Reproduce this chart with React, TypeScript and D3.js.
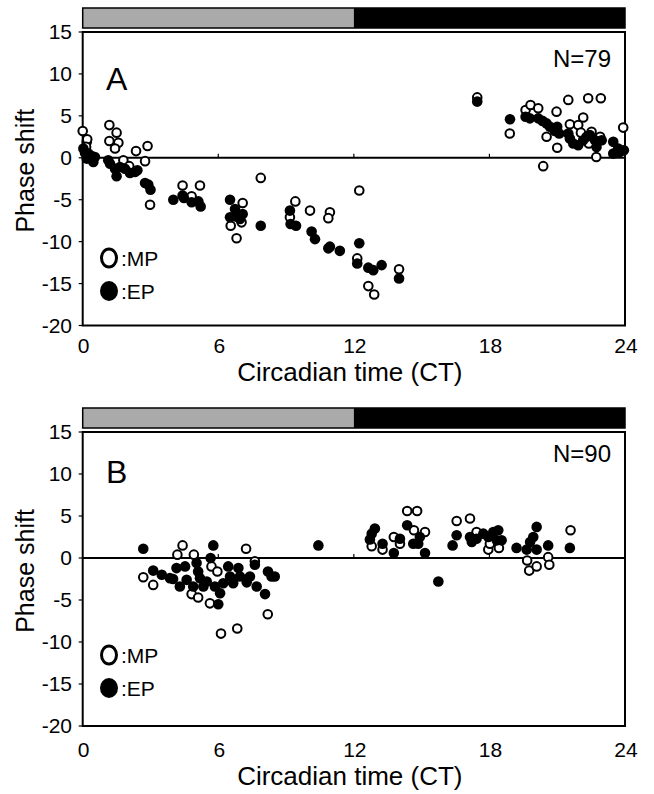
import React from "react";
import * as d3 from "d3";

// ---------- DATA ----------
const xTicks = [0, 6, 12, 18, 24];
const yTicks = [-20, -15, -10, -5, 0, 5, 10, 15];
const panelLabels = ["A", "B"];
const panelN = ["N=79", "N=90"];
const legendLabels = [":MP", ":EP"];
const xTitle = "Circadian time (CT)";
const yTitle = "Phase shift";

// Panel A: [CT, phase shift]
const aMP: [number, number][] = [
  [0.0, 3.2], [0.18, 1.9], [0.2, 2.2], [0.15, 1.3], [1.18, 3.9], [1.5, 3.0], [1.18, 2.0], [1.58, 1.8],
  [1.43, 1.1], [2.36, 0.8], [2.87, 1.4], [2.76, -0.4], [1.8, -0.3], [2.06, -1.0], [2.98, -5.6],
  [4.42, -3.3], [5.19, -3.3], [4.82, -4.6], [7.08, -5.4], [6.55, -8.1], [6.81, -9.6], [7.03, -7.7],
  [7.88, -2.4], [9.41, -5.2], [9.17, -7.1], [10.06, -6.3], [10.94, -6.5], [10.87, -7.2],
  [12.24, -3.9], [12.15, -12.0], [12.64, -15.3], [12.9, -16.3], [14.0, -13.3], [17.46, 7.2],
  [18.9, 2.9], [19.6, 5.7], [19.82, 6.3], [20.16, 5.9], [20.97, 5.5], [21.49, 6.9], [22.37, 7.1],
  [22.93, 7.1], [20.53, 2.5], [21.0, 1.2], [21.56, 4.0], [21.93, 3.9], [22.15, 4.8], [22.05, 3.0],
  [22.52, 3.1], [22.4, 1.7], [22.73, 0.1], [23.92, 3.6], [22.9, 2.5], [20.38, -1.0],
];
const aEP: [number, number][] = [
  [0.03, 1.1], [0.1, 0.6], [0.25, 0.5], [0.4, 0.2], [0.54, 0.1], [0.47, -0.5], [0.18, -0.1],
  [1.13, -0.3], [1.21, -0.7], [1.43, -1.3], [1.5, -2.2], [1.65, -1.1], [1.87, -1.3], [2.09, -1.8],
  [2.31, -1.7], [2.42, -1.5], [2.76, -3.0], [2.9, -3.2], [3.0, -3.8], [4.01, -5.0], [4.42, -4.5],
  [4.48, -4.8], [4.82, -5.3], [5.12, -5.2], [5.22, -5.8], [6.52, -5.0], [6.74, -6.1], [6.52, -7.1],
  [6.78, -7.0], [7.08, -6.7], [6.96, -7.3], [7.88, -8.1], [9.17, -6.3], [9.2, -7.9], [9.44, -8.1],
  [10.13, -8.8], [10.28, -9.7], [10.87, -10.8], [10.94, -10.6], [11.38, -11.1], [12.24, -10.2],
  [12.15, -12.6], [12.64, -13.1], [12.86, -13.4], [13.23, -12.8], [14.0, -14.4], [17.46, 6.7],
  [18.91, 4.6], [19.6, 4.9], [19.79, 4.7], [20.16, 4.7], [20.35, 4.4], [20.53, 4.1], [20.68, 3.7],
  [20.9, 3.2], [21.0, 3.7], [21.09, 2.9], [21.49, 2.9], [21.56, 2.3], [21.71, 1.7], [21.93, 1.5],
  [22.15, 2.1], [22.3, 2.5], [22.45, 2.7], [22.67, 2.1], [22.74, 1.3], [22.97, 2.1], [23.48, 1.9],
  [23.48, 0.5], [23.7, 1.1], [23.95, 0.9], [23.77, 0.7],
];

// Panel B: [CT, phase shift]
const bMP: [number, number][] = [
  [2.68, -2.3], [3.12, -3.2], [4.19, 0.4], [4.42, 1.5], [4.92, 0.4], [4.82, -4.3], [5.11, -4.7],
  [5.63, -5.4], [5.7, -1.0], [5.96, -1.6], [6.12, -9.0], [6.84, -8.4], [7.23, 1.1], [8.19, -6.7],
  [7.62, -0.4], [12.79, 1.4], [13.27, 1.0], [13.77, 2.5], [14.04, 1.7], [14.36, 5.6], [14.8, 5.6],
  [14.66, 3.3], [15.15, 3.1], [16.55, 4.4], [17.14, 4.7], [17.43, 3.1], [17.95, 1.0], [18.42, 1.2],
  [18.02, 1.7], [19.67, -0.3], [19.76, -1.5], [20.09, -1.0], [20.6, 0.1], [20.65, -0.8], [21.59, 3.3],
];
const bEP: [number, number][] = [
  [2.68, 1.1], [3.12, -1.5], [3.5, -2.0], [4.0, -2.5], [4.3, -3.4], [4.15, -1.2], [4.53, -1.0],
  [4.6, -2.6], [4.89, -3.4], [5.04, -0.6], [5.11, -1.6], [5.19, -2.4], [5.34, -3.4], [5.66, 0.0],
  [5.78, 1.5], [5.49, -2.8], [5.85, -3.4], [6.08, -4.2], [6.0, -5.5], [6.22, -3.0], [6.44, -1.0],
  [6.52, -2.2], [6.66, -3.0], [6.89, -1.2], [6.96, -2.2], [7.26, -2.9], [7.4, -2.2], [7.62, -0.8],
  [7.7, -3.4], [8.07, -4.3], [8.2, -1.6], [8.36, -2.2], [8.5, -2.2], [3.86, -2.4], [10.43, 1.5],
  [12.79, 2.9], [12.93, 3.5], [12.71, 2.2], [13.27, 1.7], [13.77, 0.6], [14.04, 2.3], [14.36, 3.9],
  [14.63, 1.7], [14.85, 1.7], [15.15, 0.6], [14.92, 2.5], [15.74, -2.8], [16.37, 1.5], [16.55, 2.7],
  [17.14, 2.5], [17.22, 1.9], [17.43, 2.3], [17.73, 2.9], [17.95, 2.5], [18.17, 3.1], [18.39, 3.3],
  [18.54, 2.1], [18.32, 2.1], [19.2, 1.2], [19.65, 1.0], [19.8, 1.9], [19.94, 2.5], [20.09, 3.7],
  [20.09, 1.0], [20.6, 1.5], [21.56, 1.2],
];

const FONT = "'Liberation Sans', Arial, Helvetica, sans-serif";

type PanelProps = {
  top: number;
  bottom: number;
  label: string;
  n: string;
  mp: [number, number][];
  ep: [number, number][];
  labelDy: number;
  nDy: number;
  legendDy: number;
  tickDy: number;
  titleDy: number;
};

const LEFT = 82.7;
const RIGHT = 625;

function Panel(p: PanelProps) {
  const x = d3.scaleLinear().domain([0, 24]).range([LEFT, RIGHT]);
  const y = d3.scaleLinear().domain([-20, 15]).range([p.bottom, p.top]);
  const barTop = p.top - 24;
  const barH = 20;
  return (
    <g>
      {/* light/dark bar */}
      <rect x={x(0)} y={barTop} width={x(12) - x(0)} height={barH} fill="#aaaaaa" />
      <rect x={x(12)} y={barTop} width={x(24) - x(12)} height={barH} fill="#000" />
      <rect x={x(0)} y={barTop} width={x(24) - x(0)} height={barH} fill="none" stroke="#000" strokeWidth={1.5} />

      {/* plot box */}
      <rect x={x(0)} y={p.top} width={x(24) - x(0)} height={p.bottom - p.top} fill="none" stroke="#000" strokeWidth={2} />

      {/* zero line with ticks */}
      <line x1={x(0)} x2={x(24)} y1={y(0)} y2={y(0)} stroke="#000" strokeWidth={2} />
      {[6, 12, 18].map((t) => (
        <line key={t} x1={x(t)} x2={x(t)} y1={y(0)} y2={y(0) - 4} stroke="#000" strokeWidth={1.2} />
      ))}

      {/* y ticks */}
      {yTicks.map((t) => (
        <g key={t}>
          <line x1={x(0) - 4} x2={x(0)} y1={y(t)} y2={y(t)} stroke="#000" strokeWidth={1.2} />
          <text x={72} y={y(t)} dy="0.35em" textAnchor="end" fontSize={21} fontFamily={FONT}>
            {t}
          </text>
        </g>
      ))}

      {/* x tick labels */}
      {xTicks.map((t) => (
        <text key={t} x={x(t) + 1} y={p.bottom + p.tickDy} textAnchor="middle" fontSize={21} fontFamily={FONT}>
          {t}
        </text>
      ))}
      <text x={(x(0) + x(24)) / 2 - 4} y={p.bottom + p.titleDy} textAnchor="middle" fontSize={26} fontFamily={FONT}>
        {xTitle}
      </text>
      <text
        transform={`translate(34, ${(p.top + p.bottom) / 2 - 8}) rotate(-90)`}
        textAnchor="middle"
        fontSize={25}
        fontFamily={FONT}
      >
        {yTitle}
      </text>

      {/* panel label and N */}
      <text x={106} y={p.top + p.labelDy} fontSize={32} fontFamily={FONT}>
        {p.label}
      </text>
      <text x={611} y={p.top + p.nDy} textAnchor="end" fontSize={24} fontFamily={FONT}>
        {p.n}
      </text>

      {/* points */}
      {p.mp.map((d, i) => (
        <circle key={"m" + i} cx={x(d[0])} cy={y(d[1])} r={4.3} fill="#fff" stroke="#000" strokeWidth={2} />
      ))}
      {p.ep.map((d, i) => (
        <circle key={"e" + i} cx={x(d[0])} cy={y(d[1])} r={5.3} fill="#000" />
      ))}

      {/* legend */}
      <ellipse cx={109} cy={p.top + p.legendDy} rx={7.5} ry={9} fill="#fff" stroke="#000" strokeWidth={3} />
      <text x={121} y={p.top + p.legendDy + 8} fontSize={21} fontFamily={FONT}>
        {legendLabels[0]}
      </text>
      <ellipse cx={109} cy={p.top + p.legendDy + 33} rx={9} ry={10} fill="#000" />
      <text x={121} y={p.top + p.legendDy + 41} fontSize={21} fontFamily={FONT}>
        {legendLabels[1]}
      </text>
    </g>
  );
}

export default function App() {
  return (
    <svg
      width={654}
      height={794}
      style={{ position: "absolute", left: 0, top: 0, display: "block", background: "#fff" }}
    >
      <rect width={654} height={794} fill="#fff" />
      <Panel top={32} bottom={325.5} label={panelLabels[0]} n={panelN[0]} mp={aMP} ep={aEP}
        labelDy={58} nDy={35} legendDy={226} tickDy={27} titleDy={55} />
      <Panel top={432} bottom={726} label={panelLabels[1]} n={panelN[1]} mp={bMP} ep={bEP}
        labelDy={51} nDy={30} legendDy={223} tickDy={31} titleDy={59} />
    </svg>
  );
}
